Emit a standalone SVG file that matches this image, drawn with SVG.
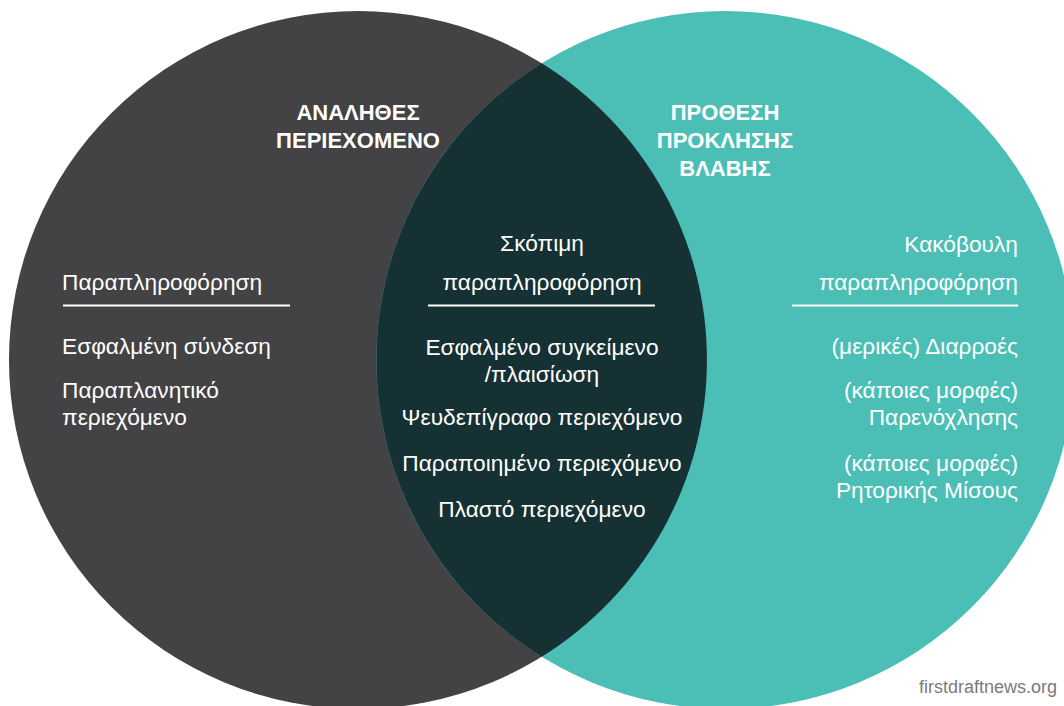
<svg xmlns="http://www.w3.org/2000/svg" width="1064" height="706" viewBox="0 0 1064 706">
<style>
.t{font-family:"Liberation Sans",Arial,sans-serif;font-size:22.7px;fill:#ffffff}
.h{font-family:"Liberation Sans",Arial,sans-serif;font-size:22px;font-weight:bold;fill:#ffffff;text-anchor:middle}
.m{text-anchor:middle}
.e{text-anchor:end}
.rule{stroke:#ffffff;stroke-width:2}
</style>
<rect width="1064" height="706" fill="#ffffff"/>
<g id="circles">
<circle id="left-circle" cx="358" cy="360" r="349" fill="#434244"/>
<circle id="right-circle" cx="725.4" cy="360" r="349" fill="#4bbfb6"/>
<path id="overlap" d="M541.7 63.3 A349 349 0 0 1 541.7 656.7 A349 349 0 0 1 541.7 63.3 Z" fill="#163133"/>
</g>
<g id="connectors"></g>
<g id="header-left">
<text class="h" x="358" y="120">ΑΝΑΛΗΘΕΣ</text>
<text class="h" x="358" y="148">ΠΕΡΙΕΧΟΜΕΝΟ</text>
</g>
<g id="header-right">
<text class="h" x="725" y="120">ΠΡΟΘΕΣΗ</text>
<text class="h" x="725" y="148">ΠΡΟΚΛΗΣΗΣ</text>
<text class="h" x="725" y="176">ΒΛΑΒΗΣ</text>
</g>
<g id="left-list">
<text class="t" x="62" y="290">Παραπληροφόρηση</text>
<line class="rule" x1="63" y1="305.5" x2="290" y2="305.5"/>
<text class="t" x="62" y="354">Εσφαλμένη σύνδεση</text>
<text class="t" x="62" y="398">Παραπλανητικό</text>
<text class="t" x="62" y="425">περιεχόμενο</text>
</g>
<g id="center-list">
<text class="t m" x="542" y="251">Σκόπιμη</text>
<text class="t m" x="542" y="290">παραπληροφόρηση</text>
<line class="rule" x1="428" y1="305.5" x2="655" y2="305.5"/>
<text class="t m" x="542" y="355">Εσφαλμένο συγκείμενο</text>
<text class="t m" x="542" y="382">/πλαισίωση</text>
<text class="t m" x="542" y="425">Ψευδεπίγραφο περιεχόμενο</text>
<text class="t m" x="542" y="471">Παραποιημένο περιεχόμενο</text>
<text class="t m" x="542" y="517">Πλαστό περιεχόμενο</text>
</g>
<g id="right-list">
<text class="t e" x="1018" y="252">Κακόβουλη</text>
<text class="t e" x="1018" y="290">παραπληροφόρηση</text>
<line class="rule" x1="792" y1="305.5" x2="1018" y2="305.5"/>
<text class="t e" x="1018" y="354">(μερικές) Διαρροές</text>
<text class="t e" x="1018" y="398">(κάποιες μορφές)</text>
<text class="t e" x="1018" y="425">Παρενόχλησης</text>
<text class="t e" x="1018" y="471">(κάποιες μορφές)</text>
<text class="t e" x="1018" y="498">Ρητορικής Μίσους</text>
</g>
<g id="credit">
<text x="1057" y="693" font-family="'Liberation Sans',Arial,sans-serif" font-size="18" fill="#7a7a7a" text-anchor="end">firstdraftnews.org</text>
</g>
</svg>
